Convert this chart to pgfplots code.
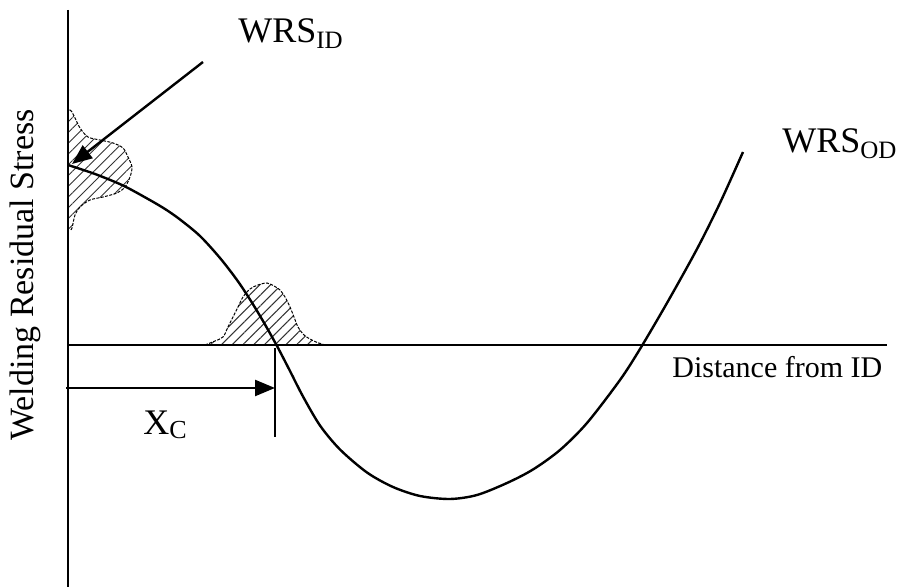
\documentclass[border=0pt]{standalone}
\usepackage{pgfplots}
\pgfplotsset{compat=1.18}
\usepackage{fontspec}
\setmainfont{Liberation Serif}
\usetikzlibrary{patterns.meta,arrows.meta}
\begin{document}
\begin{tikzpicture}
\begin{axis}[
  width=453pt, height=293.5pt, scale only axis,
  xmin=0, xmax=906, ymin=0, ymax=587,
  hide axis, clip=false,
]
\path (rel axis cs:0,0) rectangle (rel axis cs:1,1);
% ID distribution (hatched)
\addplot[draw=none, pattern={Lines[angle=45,distance=3.8pt,line width=0.5pt]}, pattern color=black!80, smooth, tension=0.5] coordinates {
(68,477) (72,477) (75,469) (80,459) (88,450) (100,447) (113,444) (123,439) (128,430) (132,420) (130,410) (125,400) (117,394) (103,390) (90,387) (80,380) (75,372) (72,359) (70,356) (68,356)};
\addplot[black, line width=0.5pt, dash pattern=on 1.5pt off 0.7pt, smooth, tension=0.5] coordinates {
(70,477) (72,475) (75,469) (80,459) (88,450) (100,447) (113,444) (123,439) (128,430) (132,420) (130,410) (125,400) (117,394) (103,390) (90,387) (80,380) (75,372) (72,359) (70,356)};
% middle distribution (hatched)
\addplot[draw=none, pattern={Lines[angle=45,distance=3.8pt,line width=0.5pt]}, pattern color=black!80, smooth, tension=0.5] coordinates {
(205,242) (215,246) (223,250) (228,260) (233,270) (238,280) (243,290) (250,298) (258,302) (267,304) (274,301) (280,297) (285,290) (290,280) (294,270) (298,260) (304,252) (310,248) (316,245) (322,243) (325,242)};
\addplot[black, line width=0.5pt, dash pattern=on 1.5pt off 0.7pt, smooth, tension=0.5] coordinates {
(205,242) (215,246) (223,250) (228,260) (233,270) (238,280) (243,290) (250,298) (258,302) (267,304) (274,301) (280,297) (285,290) (290,280) (294,270) (298,260) (304,252) (310,248) (316,245) (322,243) (325,242)};
% axes
\addplot[black, line width=0.7pt] coordinates {(68,577) (68,0)};
\addplot[black, line width=0.7pt] coordinates {(68,242) (887,242)};
% WRS curve
\addplot[black, line width=1.2pt, smooth, tension=0.5] coordinates {
(68,422) (95,413) (123,401.5) (148,388) (165,378) (180,367.5) (200,351) (220,329) (237,307) (250,287.5) (263,266) (277,241) (290,216) (303,190.5) (320,161.5) (340,137.5) (367,114.5) (393,100) (420,91) (450,88) (477,92) (507,104) (533,117.5) (560,137) (587,164) (620,207) (640,238) (667,284) (697,338) (720,384) (743,435)};
% WRS_ID arrow
\addplot[black, line width=1.2pt, -{Triangle[length=10pt,width=8pt]}] coordinates {(203,525) (72,423)};
% X_C arrow and marker
\addplot[black, line width=1.2pt, -{Triangle[length=10pt,width=8pt]}] coordinates {(66,199) (275,199)};
\addplot[black, line width=0.6pt] coordinates {(275,239) (275,150)};
% labels
\node[anchor=base west, inner sep=0pt, font=\fontsize{18}{20}\selectfont] at (axis cs:238,544) {WRS\raisebox{-3pt}{\fontsize{12.5}{14}\selectfont ID}};
\node[anchor=base west, inner sep=0pt, font=\fontsize{18}{20}\selectfont] at (axis cs:782,434) {WRS\raisebox{-3pt}{\fontsize{12.5}{14}\selectfont OD}};
\node[anchor=base west, inner sep=0pt, font=\fontsize{15}{17}\selectfont] at (axis cs:672,209) {Distance from ID};
\node[anchor=base west, inner sep=0pt, font=\fontsize{18}{20}\selectfont] at (axis cs:143,152) {X\raisebox{-2pt}{\fontsize{13}{15}\selectfont C}};
\node[anchor=base, rotate=90, inner sep=0pt, font=\fontsize{17}{19}\selectfont] at (axis cs:33,312) {Welding Residual Stress};
\end{axis}
\end{tikzpicture}
\end{document}
